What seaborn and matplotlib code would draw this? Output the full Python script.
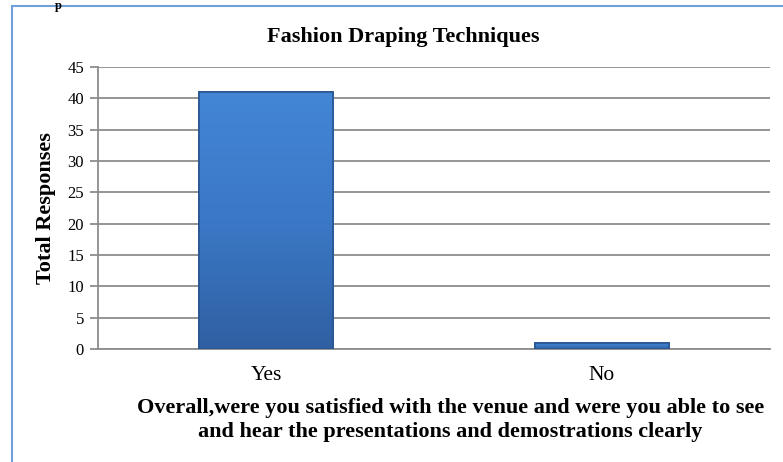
import numpy as np
import pandas as pd
import seaborn as sns
import matplotlib.pyplot as plt
from matplotlib.patches import Rectangle
from matplotlib.colors import LinearSegmentedColormap

# Data
answers = ['Yes', 'No']
responses = [41, 1]
y_ticks = [0, 5, 10, 15, 20, 25, 30, 35, 40, 45]

df = pd.DataFrame({'answer': answers, 'responses': responses})

sns.set_style('white')
plt.rcParams['font.family'] = ['Liberation Serif', 'DejaVu Serif']
plt.rcParams['text.color'] = 'black'
plt.rcParams['axes.labelcolor'] = 'black'

fig = plt.figure(figsize=(7.83, 4.62), dpi=100)
ax = fig.add_axes([98 / 783, 1 - 349 / 462, 672 / 783, 282 / 462])

# frame around the chart
fig.patches.append(Rectangle((12 / 783, -0.1), 1.0, 1 - 6 / 462 + 0.1,
                             transform=fig.transFigure, fill=False,
                             edgecolor='#6f9fd8', linewidth=1.5))
fig.text(55 / 783, 1 - 9 / 462, 'p', fontsize=9, fontweight='bold', va='baseline', ha='left')

sns.barplot(data=df, x='answer', y='responses', ax=ax, width=0.4,
            color='#3a75c4', edgecolor='#25508a', linewidth=1.2, zorder=3)

# vertical gradient on each bar
cmap = LinearSegmentedColormap.from_list('bar', ['#2f60a2', '#3b78c6', '#4386d6'])
grad = np.linspace(0, 1, 256).reshape(-1, 1)
for p in ax.patches:
    x0, y0 = p.get_x(), p.get_y()
    w, h = p.get_width(), p.get_height()
    im = ax.imshow(grad, cmap=cmap, origin='lower', aspect='auto',
                   extent=(x0, x0 + w, y0, y0 + h), zorder=3.5)
    im.set_clip_path(p)
    ax.add_patch(Rectangle((x0, y0), w, h, fill=False, edgecolor='#2a5690',
                           linewidth=1.2, zorder=4))

ax.set_xlim(-0.5, 1.5)
ax.set_ylim(0, 45)
ax.set_yticks(y_ticks)
ax.yaxis.grid(True, color='#8c8c8c', linewidth=1.3, zorder=0)
ax.set_axisbelow(True)
for s in ['top', 'right']:
    ax.spines[s].set_visible(False)
ax.spines['left'].set_color('#8c8c8c')
ax.spines['left'].set_linewidth(1.3)
ax.spines['bottom'].set_color('#8c8c8c')
ax.spines['bottom'].set_linewidth(1.3)
ax.tick_params(axis='y', left=True, length=6, color='#8c8c8c', width=1.3,
               labelsize=12, pad=4, labelcolor='black')
ax.tick_params(axis='x', bottom=False, labelsize=15.5, pad=9, labelcolor='black')

ax.set_title('Fashion Draping Techniques', fontsize=16, fontweight='bold', pad=18,
             x=0.454, color='black')
ax.set_ylabel('Total Responses', fontsize=16, fontweight='bold', labelpad=8)
ax.set_xlabel('Overall,were you satisfied with the venue and were you able to see\n'
              'and hear the presentations and demostrations clearly',
              fontsize=16, fontweight='bold', labelpad=9, linespacing=1.25, x=0.524)

fig.savefig('out.png', dpi=100)
